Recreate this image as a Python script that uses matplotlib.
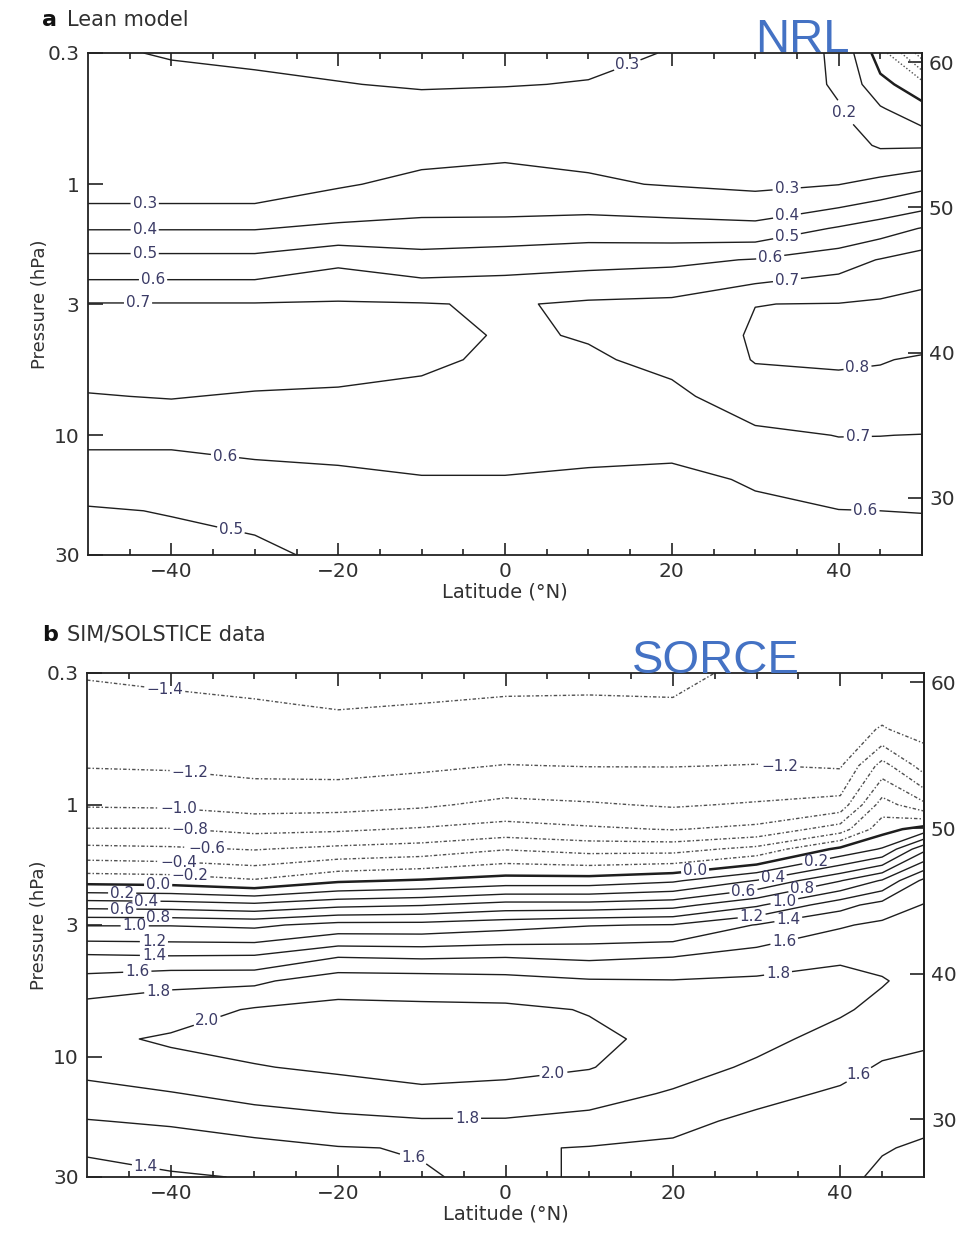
import numpy as np
import matplotlib
matplotlib.use("Agg")
import matplotlib.pyplot as plt
from matplotlib.ticker import FixedLocator, FixedFormatter, NullLocator

plt.rcParams['font.family'] = ['DejaVu Sans']

# ---------------- data ----------------
LAT = [-50, -40, -30, -20, -10, 0, 10, 20, 30, 40, 45, 50]

# Panel a: Lean model (NRL); rows = pressure levels (hPa), columns = LAT
P_A = [0.3, 0.4, 0.5, 0.7, 1.0, 1.5, 2.0, 3.0, 4.0, 5.0, 7.0, 10, 15, 20, 30]
LEAN_MODEL = [
    [0.29, 0.305, 0.31, 0.315, 0.32, 0.32, 0.31, 0.298, 0.27, 0.185, -0.05, -0.35],
    [0.27, 0.28, 0.29, 0.298, 0.305, 0.302, 0.298, 0.28, 0.26, 0.19, 0.03, -0.06],
    [0.26, 0.26, 0.26, 0.27, 0.28, 0.28, 0.28, 0.27, 0.25, 0.205, 0.11, 0.03],
    [0.25, 0.25, 0.25, 0.25, 0.265, 0.28, 0.28, 0.27, 0.25, 0.24, 0.19, 0.19],
    [0.24, 0.24, 0.24, 0.29, 0.325, 0.33, 0.31, 0.295, 0.28, 0.298, 0.33, 0.37],
    [0.395, 0.395, 0.395, 0.42, 0.43, 0.43, 0.45, 0.44, 0.43, 0.51, 0.555, 0.605],
    [0.53, 0.53, 0.53, 0.58, 0.54, 0.56, 0.57, 0.58, 0.605, 0.66, 0.705, 0.75],
    [0.705, 0.705, 0.705, 0.71, 0.705, 0.69, 0.715, 0.725, 0.799, 0.803, 0.815, 0.83],
    [0.74, 0.75, 0.75, 0.76, 0.735, 0.69, 0.705, 0.74, 0.81, 0.825, 0.83, 0.835],
    [0.74, 0.75, 0.75, 0.75, 0.72, 0.68, 0.69, 0.72, 0.805, 0.81, 0.805, 0.79],
    [0.695, 0.705, 0.69, 0.68, 0.67, 0.66, 0.67, 0.68, 0.75, 0.77, 0.765, 0.76],
    [0.62, 0.62, 0.63, 0.635, 0.64, 0.64, 0.645, 0.635, 0.68, 0.702, 0.701, 0.698],
    [0.55, 0.55, 0.57, 0.58, 0.595, 0.595, 0.58, 0.575, 0.61, 0.64, 0.645, 0.645],
    [0.49, 0.505, 0.52, 0.55, 0.57, 0.575, 0.57, 0.565, 0.58, 0.598, 0.60, 0.601],
    [0.45, 0.46, 0.48, 0.52, 0.55, 0.55, 0.55, 0.55, 0.56, 0.575, 0.575, 0.58],
]

# Panel b: SIM/SOLSTICE data (SORCE); rows = pressure levels (hPa), columns = LAT
P_B = [0.3, 0.4, 0.5, 0.7, 1.0, 1.25, 1.5, 2.0, 2.5, 3.0, 4.0, 5.0, 6.5, 8.5, 11, 14, 18, 23, 30]
SIM_SOLSTICE = [
    [-1.41, -1.43, -1.44, -1.46, -1.45, -1.45, -1.44, -1.43, -1.37, -1.32, -1.30, -1.38],
    [-1.36, -1.37, -1.39, -1.41, -1.398, -1.38, -1.38, -1.39, -1.33, -1.29, -1.25, -1.32],
    [-1.31, -1.32, -1.34, -1.36, -1.35, -1.32, -1.32, -1.34, -1.30, -1.26, -1.19, -1.26],
    [-1.21, -1.22, -1.25, -1.26, -1.23, -1.195, -1.205, -1.205, -1.195, -1.22, -0.72, -1.09],
    [-1.02, -1.03, -1.08, -1.07, -1.03, -0.95, -0.98, -1.02, -0.98, -0.92, -0.31, -0.55],
    [-0.79, -0.79, -0.85, -0.83, -0.78, -0.72, -0.77, -0.81, -0.75, -0.50, -0.08, 0.085],
    [-0.55, -0.57, -0.61, -0.55, -0.51, -0.41, -0.47, -0.47, -0.34, 0.05, 0.22, 0.75],
    [-0.08, -0.10, -0.18, -0.03, 0.02, 0.09, 0.09, 0.17, 0.41, 0.79, 1.02, 1.45],
    [0.52, 0.50, 0.45, 0.55, 0.59, 0.68, 0.68, 0.73, 0.97, 1.33, 1.48, 1.61],
    [0.99, 0.99, 0.96, 1.07, 1.07, 1.13, 1.19, 1.21, 1.41, 1.58, 1.64, 1.67],
    [1.43, 1.41, 1.42, 1.59, 1.57, 1.59, 1.56, 1.595, 1.69, 1.78, 1.76, 1.73],
    [1.68, 1.76, 1.76, 1.92, 1.91, 1.88, 1.82, 1.81, 1.83, 1.84, 1.81, 1.75],
    [1.88, 1.90, 2.02, 2.05, 2.04, 2.04, 1.99, 1.90, 1.88, 1.82, 1.76, 1.72],
    [1.95, 2.03, 2.06, 2.10, 2.08, 2.07, 2.04, 1.95, 1.85, 1.74, 1.66, 1.63],
    [1.86, 1.92, 1.99, 2.03, 2.05, 2.04, 2.01, 1.88, 1.77, 1.66, 1.58, 1.55],
    [1.73, 1.79, 1.86, 1.91, 1.97, 1.95, 1.88, 1.78, 1.66, 1.57, 1.52, 1.48],
    [1.59, 1.63, 1.70, 1.75, 1.78, 1.78, 1.74, 1.66, 1.55, 1.52, 1.46, 1.43],
    [1.42, 1.47, 1.53, 1.59, 1.61, 1.62, 1.59, 1.56, 1.50, 1.47, 1.41, 1.38],
    [1.35, 1.38, 1.41, 1.50, 1.585, 1.64, 1.58, 1.52, 1.47, 1.44, 1.37, 1.33],
]

LEVELS_A = [-0.3, -0.2, -0.1, 0.0, 0.1, 0.2, 0.3, 0.4, 0.5, 0.6, 0.7, 0.8]
LEVELS_B = [-1.4, -1.2, -1.0, -0.8, -0.6, -0.4, -0.2, 0.0,
            0.2, 0.4, 0.6, 0.8, 1.0, 1.2, 1.4, 1.6, 1.8, 2.0]

P_TICKS = [0.3, 1, 3, 10, 30]
P_TICKLABELS = ['0.3', '1', '3', '10', '30']
LAT_TICKS = [-40, -20, 0, 20, 40]
LAT_MINOR = [-45, -35, -30, -25, -15, -10, -5, 5, 10, 15, 25, 30, 35, 45]
KM_TICKS = [30, 40, 50, 60]
KM_TICKLABELS = ['30', '40', '50', '60']

# contour label placements (latitude, pressure)
LABELS_A = {
    0.2: [(40.3, 0.53)],
    0.3: [(15, 0.357), (-43.2, 1.21), (33.8, 1.07)],
    0.4: [(-43.2, 1.5), (33.8, 1.33)],
    0.5: [(-43.2, 1.85), (33.8, 1.6), (-32.7, 22.5)],
    0.6: [(-42.2, 2.3), (31.8, 1.95), (-33.6, 12.3), (43.2, 20.4)],
    0.7: [(-44.0, 3.0), (33.8, 2.4), (42.3, 10.3)],
    0.8: [(42.3, 5.5)],
}
LABELS_B = {
    -1.4: [(-40.7, 0.35)],
    -1.2: [(-37.7, 0.75), (32.8, 0.68)],
    -1.0: [(-39.0, 1.03)],
    -0.8: [(-37.7, 1.27)],
    -0.6: [(-35.7, 1.48)],
    -0.4: [(-39.0, 1.69)],
    -0.2: [(-37.7, 1.92)],
    0.0: [(-41.5, 2.05), (22.7, 1.9)],
    0.2: [(-45.8, 2.24), (37.0, 1.6)],
    0.4: [(-42.9, 2.4), (32.0, 1.99)],
    0.6: [(-45.8, 2.62), (28.5, 2.3)],
    0.8: [(-41.5, 2.84), (35.5, 2.2)],
    1.0: [(-44.3, 3.0), (33.5, 2.6)],
    1.2: [(-42.0, 3.3), (29.5, 2.95)],
    1.4: [(-42.0, 3.95), (34.0, 3.15), (-42.8, 25.2)],
    1.6: [(-44.0, 4.5), (33.4, 3.6), (42.1, 11.6), (-10.6, 22.8)],
    1.8: [(-41.6, 5.1), (32.5, 4.5), (-4.6, 17.5)],
    2.0: [(-35.7, 7.1), (5.7, 11.5)],
}

# ---------------- style ----------------
LINE_COLOR = '#1e1e1e'
NEG_COLOR = '#505050'
LABEL_COLOR = '#3b3b66'
TICK_COLOR = '#303030'
BLUE = '#4472C4'


def fmt_label(v):
    if abs(v) < 1e-9:
        return '0.0'
    s = f'{abs(v):.1f}'
    return ('\u2212' + s) if v < 0 else s


def p_to_km(p):
    p = np.asarray(p, dtype=float)
    with np.errstate(divide='ignore', invalid='ignore'):
        return 51.6 - 17.3 * np.log10(p)


def km_to_p(z):
    return 10 ** ((51.6 - np.asarray(z, dtype=float)) / 17.3)


def style_axes(ax):
    ax.set_yscale('log')
    ax.set_xlim(-50, 50)
    ax.set_ylim(30, 0.3)
    ax.yaxis.set_major_locator(FixedLocator(P_TICKS))
    ax.yaxis.set_major_formatter(FixedFormatter(P_TICKLABELS))
    ax.yaxis.set_minor_locator(NullLocator())
    ax.xaxis.set_major_locator(FixedLocator(LAT_TICKS))
    ax.xaxis.set_minor_locator(FixedLocator(LAT_MINOR))
    ax.tick_params(axis='x', which='both', direction='in', top=True, bottom=True,
                   width=1.2, color='#222222')
    ax.tick_params(axis='x', which='major', length=9, pad=5, labelsize=14.5,
                   labelcolor=TICK_COLOR)
    ax.tick_params(axis='x', which='minor', length=4.5)
    ax.tick_params(axis='y', which='major', direction='in', left=True, right=False,
                   length=11, width=1.2, pad=6, labelsize=14.5, labelcolor=TICK_COLOR,
                   color='#222222')
    for sp in ax.spines.values():
        sp.set_linewidth(1.3)
        sp.set_color('#222222')
    ax.set_xlabel('Latitude (\u00b0N)', fontsize=14, color=TICK_COLOR, labelpad=1)
    ax.set_ylabel('Pressure (hPa)', fontsize=13, color=TICK_COLOR)
    ax.yaxis.set_label_coords(-0.047, 0.5)
    sec = ax.secondary_yaxis('right', functions=(p_to_km, km_to_p))
    sec.yaxis.set_major_locator(FixedLocator(KM_TICKS))
    sec.yaxis.set_major_formatter(FixedFormatter(KM_TICKLABELS))
    sec.yaxis.set_minor_locator(NullLocator())
    sec.tick_params(axis='y', which='major', direction='in', length=10, width=1.2,
                    pad=5, labelsize=14.5, labelcolor=TICK_COLOR, color='#222222')
    sec.spines['right'].set_linewidth(1.3)


def draw_panel(ax, pres, field, levels, neg_style, labels):
    X, Y = np.meshgrid(LAT, pres)
    Z = np.array(field, dtype=float)
    for lev in levels:
        if lev < -1e-9:
            kw = dict(colors=NEG_COLOR, linewidths=1.0, linestyles=[neg_style])
        elif abs(lev) < 1e-9:
            kw = dict(colors=LINE_COLOR, linewidths=1.8, linestyles='solid')
        else:
            kw = dict(colors=LINE_COLOR, linewidths=1.0, linestyles='solid')
        if Z.min() >= lev or Z.max() <= lev:
            continue
        cs = ax.contour(X, Y, Z, levels=[lev], **kw)
        positions = None
        for key, pos in labels.items():
            if abs(key - lev) < 1e-6:
                positions = pos
        if positions:
            texts = cs.clabel(manual=positions, inline=True, inline_spacing=2,
                              fmt=fmt_label, fontsize=11, colors=LABEL_COLOR)
            for t in texts:
                t.set_rotation(0)


W, H = 976, 1233
fig = plt.figure(figsize=(W / 100, H / 100), dpi=100)

ax_a = fig.add_axes([88 / W, 1 - 555 / H, (922 - 88) / W, (555 - 53) / H])
style_axes(ax_a)
draw_panel(ax_a, P_A, LEAN_MODEL, LEVELS_A, (0, (1, 1.5)), LABELS_A)

ax_b = fig.add_axes([87 / W, 1 - 1177 / H, (924 - 87) / W, (1177 - 673) / H])
style_axes(ax_b)
draw_panel(ax_b, P_B, SIM_SOLSTICE, LEVELS_B, (0, (2.5, 1.5, 1, 1.5)), LABELS_B)

# panel titles
fig.text(42 / W, 1 - 20 / H, 'a', fontsize=16, fontweight='bold', va='center', color='#111111')
fig.text(67 / W, 1 - 20 / H, 'Lean model', fontsize=15, va='center', color=TICK_COLOR)
fig.text(42 / W, 1 - 635 / H, 'b', fontsize=16, fontweight='bold', va='center', color='#111111')
fig.text(67 / W, 1 - 635 / H, 'SIM/SOLSTICE data', fontsize=15, va='center', color=TICK_COLOR)

# blue annotations
fig.text(755 / W, 1 - 52 / H, 'NRL', fontsize=34, color=BLUE, va='baseline',
         family='Liberation Sans')
fig.text(632 / W, 1 - 673 / H, 'SORCE', fontsize=34, color=BLUE, va='baseline',
         family='Liberation Sans')

fig.savefig('out.png', dpi=100)
